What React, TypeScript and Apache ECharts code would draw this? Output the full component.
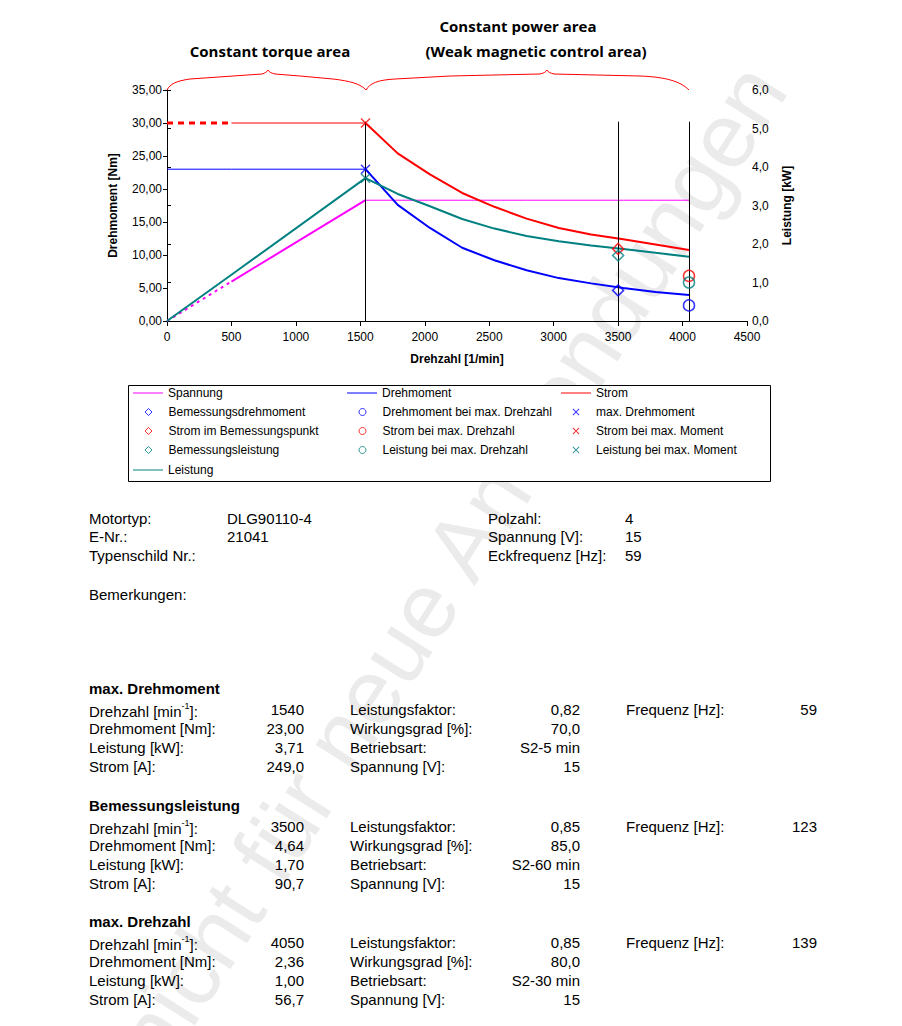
import React, { useEffect, useRef } from "react";
import * as echarts from "echarts";

// ---------- curve data ----------
const rpm = [0, 500, 1540, 1790, 2040, 2290, 2540, 2790, 3040, 3290, 3540, 3790, 4050];
const torqueNm = [23.0, 23.0, 23.0, 17.6, 14.1, 11.1, 9.2, 7.7, 6.5, 5.7, 5.0, 4.4, 3.94];
const currentA = [249, 249, 249, 210.8, 184.3, 161.0, 143.6, 128.7, 117.0, 108.7, 102.9, 96.3, 89.3];
const powerKW = [0, 1.2, 3.71, 3.3, 2.98, 2.65, 2.4, 2.21, 2.07, 1.96, 1.87, 1.77, 1.67];
const voltageV = [0, 4.9, 15, 15, 15, 15, 15, 15, 15, 15, 15, 15, 15];

// ---------- operating points (table) ----------
const sectionTitles = ["max. Drehmoment", "Bemessungsleistung", "max. Drehzahl"];
const drehzahl = [1540, 3500, 4050];
const drehmoment = [23.0, 4.64, 2.36];
const leistung = [3.71, 1.7, 1.0];
const strom = [249.0, 90.7, 56.7];
const leistungsfaktor = [0.82, 0.85, 0.85];
const wirkungsgrad = [70.0, 85.0, 80.0];
const betriebsart = ["S2-5 min", "S2-60 min", "S2-30 min"];
const spannung = [15, 15, 15];
const frequenz = [59, 123, 139];

// ---------- motor info ----------
const infoLabelsLeft = ["Motortyp:", "E-Nr.:", "Typenschild Nr.:"];
const infoValuesLeft = ["DLG90110-4", "21041", ""];
const infoLabelsRight = ["Polzahl:", "Spannung [V]:", "Eckfrequenz [Hz]:"];
const infoValuesRight = ["4", "15", "59"];

// axis ticks
const torqueTicks = { min: 0, max: 35, interval: 5 };
const powerTicks = { min: 0, max: 6, interval: 1 };
const rpmTicks = { min: 0, max: 4500, interval: 500 };
// current 249 A sits at 30 Nm on the left axis; voltage 15 V sits at ~18.3
const currentAxisMax = (35 * 249) / 30;
const voltageAxisMax = (35 * 15) / 18.3;

const BLUE = "#0000FF";
const RED = "#FF0000";
const TEAL = "#008080";
const MAGENTA = "#FF00FF";
const FONT = "'Liberation Sans', Arial, sans-serif";
const XPATH =
  "path://M0,10 L10,0 L50,40 L90,0 L100,10 L60,50 L100,90 L90,100 L50,60 L10,100 L0,90 L40,50 Z";

const BRACES =
  "M167,90 C170,84 176,81 190,79 L233,76 L262,74 C265,73 267,72 268,70 C269,72 271,73 275,74 L300,76 L333,79 C350,81 361,84 366,90 " +
  "M366,90 C370,83 378,80 395,79 L450,76 L540,74 C544,73 546,72 547,70 C548,72 550,73 554,74 L640,76 C665,77 680,81 689,90";

const comma = (v: number, d: number) => v.toFixed(d).replace(".", ",");

function seg(ys: number[], from: number, to: number) {
  const out: number[][] = [];
  for (let i = from; i <= to; i++) out.push([rpm[i], ys[i]]);
  return out;
}

function lineSeries(name: string, ys: number[], from: number, to: number, yAxisIndex: number, color: string, width: number, type: any = "solid", extra: any = {}) {
  return {
    type: "line",
    name,
    xAxisIndex: 0,
    yAxisIndex,
    data: seg(ys, from, to),
    symbol: "none",
    showSymbol: false,
    smooth: false,
    color,
    lineStyle: { color, width, type, cap: "butt" },
    itemStyle: { color },
    z: 2,
    ...extra,
  };
}

function pointSeries(name: string, x: number, y: number, yAxisIndex: number, color: string, symbol: string) {
  const hollow = symbol !== XPATH;
  return {
    type: "scatter",
    name,
    xAxisIndex: 0,
    yAxisIndex,
    data: [[x, y]],
    symbol,
    symbolSize: hollow ? 11 : 10,
    itemStyle: hollow
      ? { color: "rgba(255,255,255,0)", borderColor: color, borderWidth: 1.5 }
      : { color, borderWidth: 0 },
    z: 5,
  };
}

function txt(x: number, y: number, text: string, opts: any = {}) {
  return {
    type: "text",
    x,
    y,
    z: 10,
    style: {
      text,
      fill: "#000",
      fontSize: 15,
      fontFamily: FONT,
      align: "left",
      verticalAlign: "middle",
      ...opts,
    },
  };
}

function drehzahlLabel(x: number, y: number) {
  return {
    type: "text",
    x,
    y,
    z: 10,
    style: {
      text: "{a|Drehzahl [min}{s|-1}{a|]:}",
      fill: "#000",
      fontFamily: FONT,
      align: "left",
      verticalAlign: "middle",
      rich: {
        a: { fontSize: 15, fontFamily: FONT, lineHeight: 18, verticalAlign: "bottom" },
        s: { fontSize: 9, fontFamily: FONT, lineHeight: 18, verticalAlign: "top", padding: [1, 0, 0, 0] },
      },
    },
  };
}

const lineNames = ["Spannung", "Drehmoment", "Strom", "Leistung"];
const legendRows = [
  ["Spannung", "Drehmoment", "Strom"],
  ["Bemessungsdrehmoment", "Drehmoment bei max. Drehzahl", "max. Drehmoment"],
  ["Strom im Bemessungspunkt", "Strom bei max. Drehzahl", "Strom bei max. Moment"],
  ["Bemessungsleistung", "Leistung bei max. Drehzahl", "Leistung bei max. Moment"],
  ["Leistung"],
];

export default function App() {
  const ref = useRef<HTMLDivElement>(null);

  useEffect(() => {
    if (!ref.current) return;
    try {
      echarts.graphic.registerShape("braces", echarts.graphic.extendPath(BRACES, {}) as any);
    } catch (e) {}
    const chart = echarts.init(ref.current, undefined, { renderer: "svg" });

    const legendColX = [133, 347, 561];
    const legendRowY = [394, 413, 432, 451, 471];
    const legends: any[] = [];
    legendRows.forEach((row, r) =>
      row.forEach((name, c) => {
        const isLine = lineNames.indexOf(name) >= 0;
        const base: any = {
          data: [name],
          top: legendRowY[r] - 7,
          orient: "horizontal",
          padding: 0,
          itemGap: 0,
          selectedMode: false,
        };
        if (isLine) {
          Object.assign(base, {
            left: legendColX[c],
            itemWidth: 30,
            itemHeight: 1,
            icon: "rect",
            textStyle: { fontSize: 12, color: "#000", fontFamily: FONT },
          });
        } else {
          Object.assign(base, {
            left: legendColX[c] + 11.5,
            itemWidth: 7,
            itemHeight: 7,
            itemStyle: { borderWidth: 1 },
            textStyle: { fontSize: 12, color: "#000", fontFamily: FONT, padding: [0, 0, 0, 11.5] },
          });
        }
        legends.push(base);
      })
    );

    const verticalMarks = drehzahl.map((d) => [{ coord: [d, 0] }, { coord: [d, 30.2] }]);

    const series: any[] = [
      // Spannung
      lineSeries("Spannung", voltageV, 2, 12, 3, MAGENTA, 1),
      lineSeries("Spannung", voltageV, 1, 2, 3, MAGENTA, 2),
      lineSeries("Spannung", voltageV, 0, 1, 3, MAGENTA, 2, [3, 4]),
      // Drehmoment
      lineSeries("Drehmoment", torqueNm, 0, 2, 0, BLUE, 1, "solid", {
        markLine: {
          silent: true,
          symbol: ["none", "none"],
          label: { show: false },
          lineStyle: { color: "#000", width: 1, type: "solid" },
          emphasis: { disabled: true },
          data: verticalMarks,
        },
      }),
      lineSeries("Drehmoment", torqueNm, 2, 12, 0, BLUE, 2),
      // Strom
      lineSeries("Strom", currentA, 1, 2, 2, RED, 1),
      lineSeries("Strom", currentA, 0, 1, 2, RED, 3, [6, 5]),
      lineSeries("Strom", currentA, 2, 12, 2, RED, 2),
      // Leistung
      lineSeries("Leistung", powerKW, 0, 2, 1, TEAL, 2),
      lineSeries("Leistung", powerKW, 2, 12, 1, TEAL, 2),
      // points
      pointSeries("Bemessungsdrehmoment", drehzahl[1], drehmoment[1], 0, BLUE, "diamond"),
      pointSeries("Strom im Bemessungspunkt", drehzahl[1], strom[1], 2, RED, "diamond"),
      pointSeries("Bemessungsleistung", drehzahl[1], leistung[1], 1, TEAL, "diamond"),
      pointSeries("Drehmoment bei max. Drehzahl", drehzahl[2], drehmoment[2], 0, BLUE, "circle"),
      pointSeries("Strom bei max. Drehzahl", drehzahl[2], strom[2], 2, RED, "circle"),
      pointSeries("Leistung bei max. Drehzahl", drehzahl[2], leistung[2], 1, TEAL, "circle"),
      pointSeries("max. Drehmoment", drehzahl[0], drehmoment[0], 0, BLUE, XPATH),
      pointSeries("Strom bei max. Moment", drehzahl[0], strom[0], 2, RED, XPATH),
      pointSeries("Leistung bei max. Moment", drehzahl[0], leistung[0], 1, TEAL, XPATH),
    ];

    // ---------- graphic texts ----------
    const graphics: any[] = [];
    graphics.push({
      type: "text",
      x: 450,
      y: 565,
      z: 0,
      rotation: (57.5 * Math.PI) / 180,
      silent: true,
      style: {
        text: "nicht für neue Anwendungen",
        fill: "#ebebeb",
        fontSize: 92,
        fontFamily: FONT,
        align: "center",
        verticalAlign: "middle",
      },
    });
    graphics.push({
      type: "braces",
      x: 0,
      y: 0,
      z: 10,
      silent: true,
      style: { fill: "none", stroke: RED, lineWidth: 1 },
    });
    const titleStyle = { fontSize: 15, fontWeight: "bold", fontFamily: "'Open Sans', sans-serif", align: "center" };
    graphics.push(txt(270, 51, "Constant torque area", titleStyle));
    graphics.push(txt(518, 26, "Constant power area", titleStyle));
    graphics.push(txt(536, 51, "(Weak magnetic control area)", titleStyle));
    graphics.push({
      type: "rect",
      z: 1,
      shape: { x: 128.5, y: 385.5, width: 642, height: 96 },
      style: { fill: "#fff", stroke: "#000", lineWidth: 1 },
    });

    const infoY = [518, 536.5, 555];
    infoLabelsLeft.forEach((l, i) => {
      graphics.push(txt(89, infoY[i], l));
      graphics.push(txt(227, infoY[i], infoValuesLeft[i]));
      graphics.push(txt(488, infoY[i], infoLabelsRight[i]));
      graphics.push(txt(625, infoY[i], infoValuesRight[i]));
    });
    graphics.push(txt(89, 594, "Bemerkungen:"));

    const headerY = [688, 805, 921];
    const labels2 = ["Leistungsfaktor:", "Wirkungsgrad [%]:", "Betriebsart:", "Spannung [V]:"];
    sectionTitles.forEach((t, s) => {
      const h = headerY[s];
      graphics.push(txt(89, h, t, { fontWeight: "bold" }));
      const rowY = [0, 1, 2, 3].map((i) => h + 21.5 + 19 * i);
      graphics.push(drehzahlLabel(89, rowY[0]));
      graphics.push(txt(89, rowY[1], "Drehmoment [Nm]:"));
      graphics.push(txt(89, rowY[2], "Leistung [kW]:"));
      graphics.push(txt(89, rowY[3], "Strom [A]:"));
      const v1 = [String(drehzahl[s]), comma(drehmoment[s], 2), comma(leistung[s], 2), comma(strom[s], 1)];
      v1.forEach((v, i) => graphics.push(txt(304, rowY[i], v, { align: "right" })));
      labels2.forEach((l, i) => graphics.push(txt(350, rowY[i], l)));
      const v2 = [comma(leistungsfaktor[s], 2), comma(wirkungsgrad[s], 1), betriebsart[s], String(spannung[s])];
      v2.forEach((v, i) => graphics.push(txt(580, rowY[i], v, { align: "right" })));
      graphics.push(txt(626, rowY[0], "Frequenz [Hz]:"));
      graphics.push(txt(817, rowY[0], String(frequenz[s]), { align: "right" }));
    });

    const axisLine = { show: true, lineStyle: { color: "#000", width: 1 } };
    const tick = { show: true, inside: false, length: 4, lineStyle: { color: "#000", width: 1 } };
    const nameStyle = { fontWeight: "bold", fontSize: 12, color: "#000", fontFamily: FONT };

    const option: any = {
      animation: false,
      backgroundColor: "#fff",
      textStyle: { fontFamily: FONT },
      grid: { left: 167, right: 155, top: 90, bottom: 705, containLabel: false },
      legend: legends,
      xAxis: [
        {
          type: "value",
          ...rpmTicks,
          position: "bottom",
          axisLine,
          axisTick: { ...tick, length: 5 },
          axisLabel: { color: "#000", fontSize: 12, margin: 10, fontFamily: FONT, formatter: (v: number) => String(v) },
          splitLine: { show: false },
          name: "Drehzahl [1/min]",
          nameLocation: "middle",
          nameGap: 32,
          nameTextStyle: nameStyle,
        },
        {
          type: "value",
          ...rpmTicks,
          position: "top",
          axisLine,
          axisTick: { show: false },
          axisLabel: { show: false },
          splitLine: { show: false },
        },
      ],
      yAxis: [
        {
          type: "value",
          ...torqueTicks,
          position: "left",
          axisLine,
          axisTick: tick,
          axisLabel: { color: "#000", fontSize: 12, margin: 5, fontFamily: FONT, formatter: (v: number) => comma(v, 2) },
          splitLine: { show: false },
          name: "Drehmoment [Nm]",
          nameLocation: "middle",
          nameRotate: 90,
          nameGap: 48,
          nameTextStyle: nameStyle,
        },
        {
          type: "value",
          ...powerTicks,
          position: "right",
          axisLine,
          axisTick: tick,
          axisLabel: { color: "#000", fontSize: 12, margin: 5, fontFamily: FONT, formatter: (v: number) => comma(v, 1) },
          splitLine: { show: false },
          name: "Leistung [kW]",
          nameLocation: "middle",
          nameRotate: 90,
          nameGap: 34,
          nameTextStyle: nameStyle,
        },
        { type: "value", min: 0, max: currentAxisMax, show: false, splitLine: { show: false } },
        { type: "value", min: 0, max: voltageAxisMax, show: false, splitLine: { show: false } },
      ],
      graphic: { elements: graphics },
      series,
    };
    chart.setOption(option);
    return () => chart.dispose();
  }, []);

  return (
    <div
      ref={ref}
      style={{ position: "absolute", left: 0, top: 0, width: 902, height: 1026, background: "#fff" }}
    />
  );
}
